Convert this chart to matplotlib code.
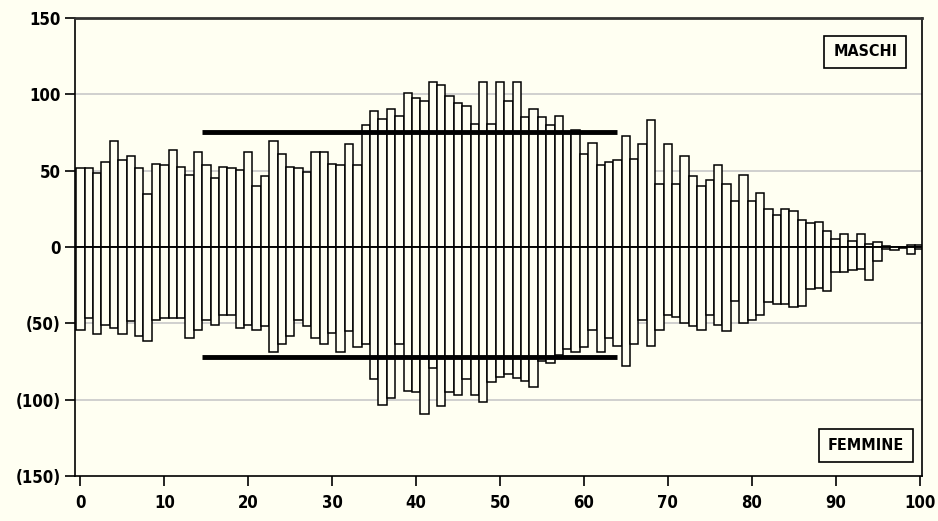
import matplotlib
matplotlib.use("Agg")
import matplotlib.pyplot as plt
from matplotlib.ticker import FuncFormatter

# età 0..100
ages = list(range(0, 101))

maschi = [51.5, 51.5, 48.2, 55.6, 69.4, 56.7, 59.8, 51.5, 34.4, 54.5,
          53.4, 63.3, 52.6, 47.1, 62.0, 53.4, 45.1, 52.6, 51.5, 50.4,
          62.0, 39.9, 46.2, 69.4, 60.9, 52.6, 51.5, 49.3, 62.0, 62.0,
          54.5, 53.4, 67.2, 53.4, 79.7, 89.3, 84.0, 90.4, 86.0, 100.9,
          97.6, 95.6, 108.3, 106.3, 98.7, 94.5, 92.3, 80.8, 108.3, 80.8,
          108.3, 95.6, 108.3, 84.9, 90.4, 84.9, 79.7, 86.0, 75.0, 76.8,
          60.9, 68.1, 53.4, 55.6, 56.7, 72.5, 57.8, 67.2, 83.0, 41.0,
          67.2, 41.0, 59.8, 46.2, 39.9, 44.0, 53.4, 41.0, 30.3, 47.3,
          30.3, 35.5, 25.0, 20.9, 25.0, 23.9, 17.6, 15.6, 16.5, 10.4,
          5.1, 8.2, 4.1, 8.2, 2.1, 3.0, 0.5, 0.0, 0.0, 1.0,
          1.0]

femmine = [-54.5, -46.7, -57.2, -50.8, -53.0, -57.2, -48.6, -58.3, -61.3, -47.8,
           -46.7, -46.7, -46.7, -59.3, -54.1, -47.8, -50.8, -44.5, -44.5, -53.0,
           -50.8, -54.1, -51.9, -68.7, -63.5, -58.3, -47.8, -51.9, -59.3, -63.5,
           -56.1, -68.7, -54.7, -65.5, -63.5, -86.7, -103.3, -99.1, -63.5, -94.1,
           -95.0, -109.6, -79.0, -104.4, -95.0, -97.2, -86.7, -97.2, -101.3, -88.6,
           -84.9, -83.4, -85.5, -87.8, -91.9, -74.9, -76.0, -71.0, -66.6, -68.7,
           -65.5, -54.1, -68.7, -59.3, -64.6, -78.1, -63.5, -47.8, -64.6, -54.1,
           -44.5, -45.6, -49.7, -51.9, -54.1, -44.5, -50.8, -54.9, -35.1, -49.7,
           -47.8, -44.5, -36.2, -37.3, -37.3, -39.2, -38.4, -27.7, -26.8, -28.7,
           -16.3, -16.3, -15.2, -14.1, -21.5, -8.9, -1.6, -2.0, -0.5, -4.5,
           -1.0]

# medie età 15-64
media_m = 75.1
media_f = -71.8
media_da, media_a = 14.5, 64.0

y_ticks = [-150, -100, -50, 0, 50, 100, 150]
x_ticks = list(range(0, 101, 10))

bg = '#fffff2'
font = ['DejaVu Sans']

fig = plt.figure(figsize=(9.38, 5.21), dpi=100, facecolor=bg)
ax = fig.add_axes([0.080, 0.0864, 0.903, 0.879])
ax.set_facecolor(bg)

ax.set_xlim(-0.65, 100.3)
ax.set_ylim(-150, 150)

# griglia
for v in [-100, -50, 50, 100]:
    ax.axhline(v, color='#c8c8c8', lw=1.2, zorder=0)

ax.bar(ages, maschi, width=1.0, facecolor=bg, edgecolor='black', linewidth=1.1, zorder=2)
ax.bar(ages, femmine, width=1.0, facecolor=bg, edgecolor='black', linewidth=1.1, zorder=2)
ax.axhline(0, color='black', lw=1.1, zorder=3)

ax.hlines([media_m, media_f], media_da, media_a, colors='black', lw=3.5, zorder=4)

# assi
for s in ax.spines.values():
    s.set_color('black')
    s.set_linewidth(1.2)
ax.spines['top'].set_linewidth(2)
ax.spines['top'].set_color('#333333')

ax.set_yticks(y_ticks)
ax.set_xticks(x_ticks)
ax.yaxis.set_major_formatter(FuncFormatter(lambda v, p: f'({abs(int(v))})' if v < 0 else f'{int(v)}'))
ax.tick_params(axis='both', direction='out', length=7, width=1.2, color='black')
ax.tick_params(axis='x', pad=6)
for lab in ax.get_xticklabels() + ax.get_yticklabels():
    lab.set_family(font)
    lab.set_fontstretch('condensed')
    lab.set_fontweight('bold')
    lab.set_fontsize(12)

box = dict(boxstyle='square,pad=0.55', facecolor=bg, edgecolor='black', linewidth=1.2)
ax.text(0.933, 0.926, 'MASCHI', transform=ax.transAxes, ha='center', va='center',
        family=font, fontstretch='condensed', fontweight='bold', fontsize=11.5, bbox=box, zorder=5)
ax.text(0.934, 0.067, 'FEMMINE', transform=ax.transAxes, ha='center', va='center',
        family=font, fontstretch='condensed', fontweight='bold', fontsize=11.5, bbox=box, zorder=5)

fig.savefig('out.png', dpi=100, facecolor=bg)
